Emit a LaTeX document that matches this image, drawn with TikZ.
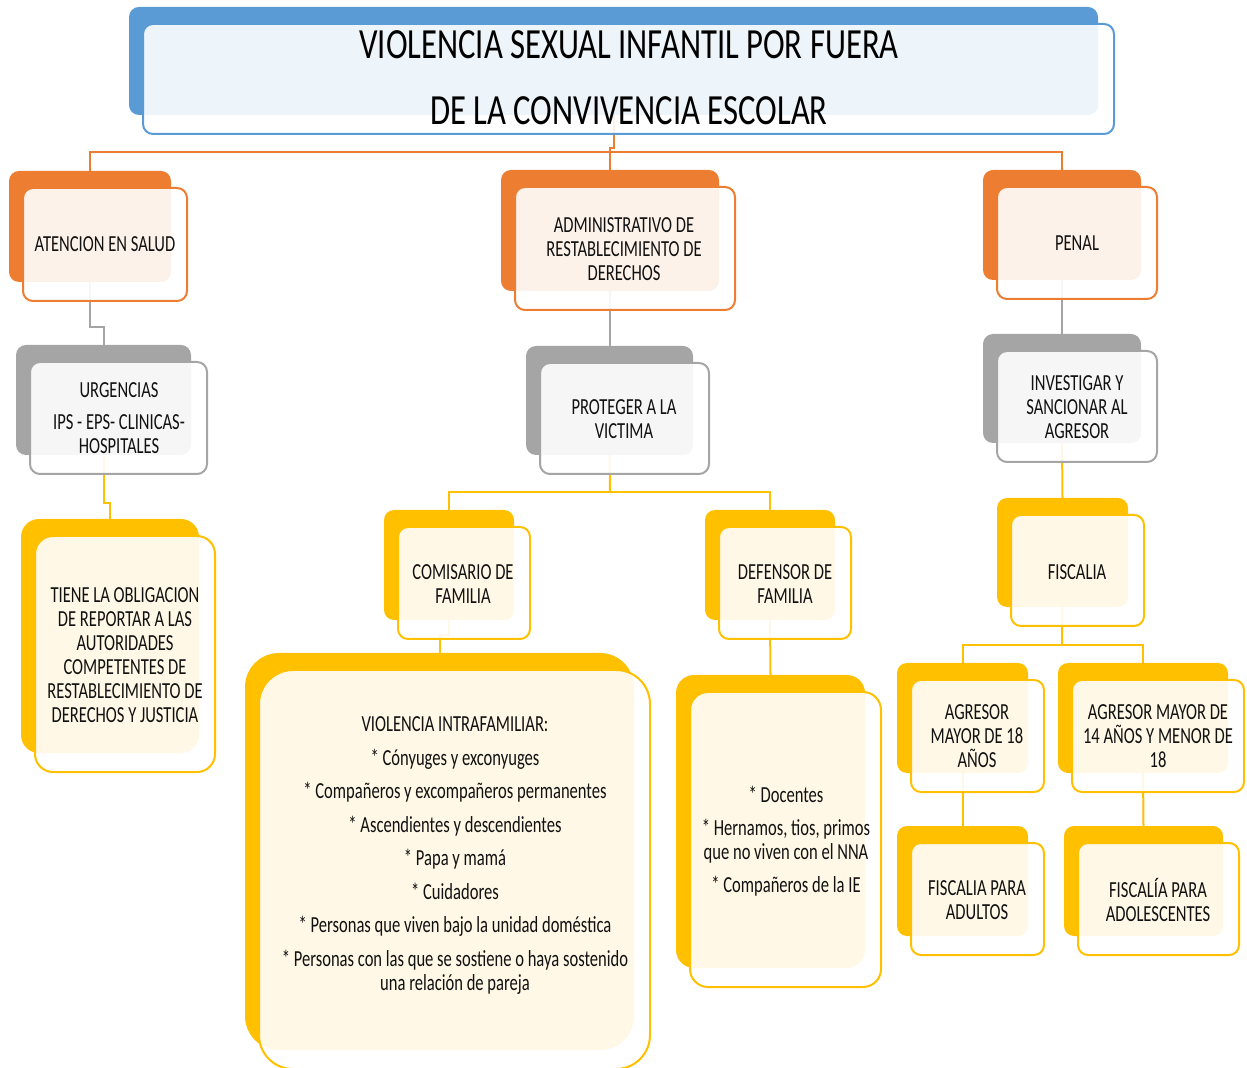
\documentclass[tikz,border=0pt]{standalone}
\usepackage{fontspec}
\setmainfont{Carlito}[FakeStretch=0.72]
\newfontfamily\titlefont{Carlito}[FakeStretch=0.76]
\usetikzlibrary{fit,calc}
\pgfdeclarelayer{bg}
\pgfsetlayers{bg,main}
\definecolor{cOr}{HTML}{ED7D31}
\definecolor{cGr}{HTML}{A5A5A5}
\definecolor{cYe}{HTML}{FFC000}
\definecolor{cBl}{HTML}{5B9BD5}
\definecolor{txtc}{HTML}{111111}
\tikzset{
  backbox/.style={fill=#1, draw=none, inner sep=0pt, outer sep=0pt},
  frontbox/.style={draw=#1, fill=white, fill opacity=0.9, line width=1pt, inner sep=0pt, outer sep=0pt},
  conn/.style={draw=#1, line width=1pt},
  txt/.style={font=\fontsize{11.5}{12}\selectfont, text=txtc, align=center, inner sep=0pt},
}
\newcommand{\dbox}[7]{%
  \node[backbox=#2, rounded corners=#7pt, fit={(#3,#4)(#5,#6)}] (#1b) {};
  \node[frontbox=#2, rounded corners=#7pt, fit={(#3+14,#4+17)(#5+16,#6+19)}] (#1) {};
}
\begin{document}
\begin{tikzpicture}[x=0.5pt,y=-0.5pt]
\useasboundingbox (0,0) rectangle (1247,1068);
% boxes
\dbox{title}{cBl}{129}{7}{1098}{115}{5}
\dbox{atencion}{cOr}{9}{171}{171}{282}{5}
\dbox{admin}{cOr}{501}{170}{719}{291}{5}
\dbox{penal}{cOr}{983}{170}{1141}{280}{5}
\dbox{urg}{cGr}{16}{345}{191}{455}{5}
\dbox{prot}{cGr}{526}{346}{693}{455}{5}
\dbox{inv}{cGr}{983}{334}{1141}{443}{5}
\dbox{tiene}{cYe}{21}{519}{199}{753}{9}
\dbox{com}{cYe}{384}{510}{514}{620}{5}
\dbox{def}{cYe}{705}{510}{835}{620}{5}
\dbox{fisc}{cYe}{997}{498}{1128}{607}{5}
\dbox{viol}{cYe}{245}{653}{634}{1050}{17}
\dbox{list}{cYe}{676}{675}{865}{968}{9}
\dbox{agA}{cYe}{897}{663}{1028}{773}{5}
\dbox{agB}{cYe}{1058}{663}{1228}{773}{5}
\dbox{adult}{cYe}{897}{826}{1028}{936}{5}
\dbox{adol}{cYe}{1064}{826}{1223}{936}{5}
% junction coordinates
\coordinate (j0) at (610,148);
\coordinate (jbar) at (610,152);
\coordinate (k1) at (97,327);
\coordinate (k2) at (107,503);
\coordinate (k3) at (610,492);
\coordinate (k4) at (445,635);
\coordinate (k5) at (1062,645);
% connectors
\begin{pgfonlayer}{bg}
\draw[conn=cOr] (titleb.south) |- (j0) -- (adminb.north);
\draw[conn=cOr] (atencionb.north) |- (jbar) -| (penalb.north);
\draw[conn=cGr] (atencionb.south) |- (k1) -| (urgb.north);
\draw[conn=cGr] (adminb.south) -- (adminb.south |- protb.north);
\draw[conn=cGr] (penalb.south) -- (invb.north);
\draw[conn=cYe] (urgb.south) |- (k2) -| (tieneb.north);
\draw[conn=cYe] (protb.south) -- (k3);
\draw[conn=cYe] (comb.north) |- (k3) -| (defb.north);
\draw[conn=cYe] (invb.south) -- (fiscb.north);
\draw[conn=cYe] (comb.south) |- (k4) -| (violb.north);
\draw[conn=cYe] (defb.south) -- (listb.north);
\draw[conn=cYe] (fiscb.south) -- (k5);
\draw[conn=cYe] (agAb.north) |- (k5) -| (agBb.north);
\draw[conn=cYe] (agAb.south) -- (adultb.north);
\draw[conn=cYe] (agBb.south) -- (adolb.north);
\end{pgfonlayer}
% texts
\node[txt, text=black, font=\titlefont\fontsize{21.5}{33}\selectfont] (title-t) at (629,78) {VIOLENCIA SEXUAL INFANTIL POR FUERA\\DE LA CONVIVENCIA ESCOLAR};
\node[txt] (atencion-t) at (105,244) {ATENCION EN SALUD};
\node[txt] (admin-t) at (624,249) {ADMINISTRATIVO DE\\RESTABLECIMIENTO DE\\DERECHOS};
\node[txt] (penal-t) at (1077,243) {PENAL};
\node[txt] (urg-t) at (119,418.5) {URGENCIAS\\[4pt]IPS - EPS- CLINICAS-\\HOSPITALES};
\node[txt] (prot-t) at (624,419.5) {PROTEGER A LA\\VICTIMA};
\node[txt] (inv-t) at (1077,407) {INVESTIGAR Y\\SANCIONAR AL\\AGRESOR};
\node[txt] (tiene-t) at (125,655) {TIENE LA OBLIGACION\\DE REPORTAR A LAS\\AUTORIDADES\\COMPETENTES DE\\RESTABLECIMIENTO DE\\DERECHOS Y JUSTICIA};
\node[txt] (com-t) at (463,584) {COMISARIO DE\\FAMILIA};
\node[txt] (def-t) at (785,584) {DEFENSOR DE\\FAMILIA};
\node[txt] (fisc-t) at (1077,572) {FISCALIA};
\node[txt] (viol-t) at (455,855.5) {VIOLENCIA INTRAFAMILIAR:\\[4.75pt]
* Cónyuges y exconyuges\\[4.75pt]
* Compañeros y excompañeros permanentes\\[4.75pt]
* Ascendientes y descendientes\\[4.75pt]
* Papa y mamá\\[4.75pt]
* Cuidadores\\[4.75pt]
* Personas que viven bajo la unidad doméstica\\[4.75pt]
* Personas con las que se sostiene o haya sostenido\\
una relación de pareja};
\node[txt] (list-t) at (786,841) {* Docentes\\[4.5pt]* Hernamos, tios, primos\\que no viven con el NNA\\[4.5pt]* Compañeros de la IE};
\node[txt] (agA-t) at (977,736) {AGRESOR\\MAYOR DE 18\\AÑOS};
\node[txt] (agB-t) at (1158,736) {AGRESOR MAYOR DE\\14 AÑOS Y MENOR DE\\18};
\node[txt] (adult-t) at (977,900) {FISCALIA PARA\\ADULTOS};
\node[txt] (adol-t) at (1158,900) {FISCALÍA PARA\\ADOLESCENTES};
\end{tikzpicture}
\end{document}
